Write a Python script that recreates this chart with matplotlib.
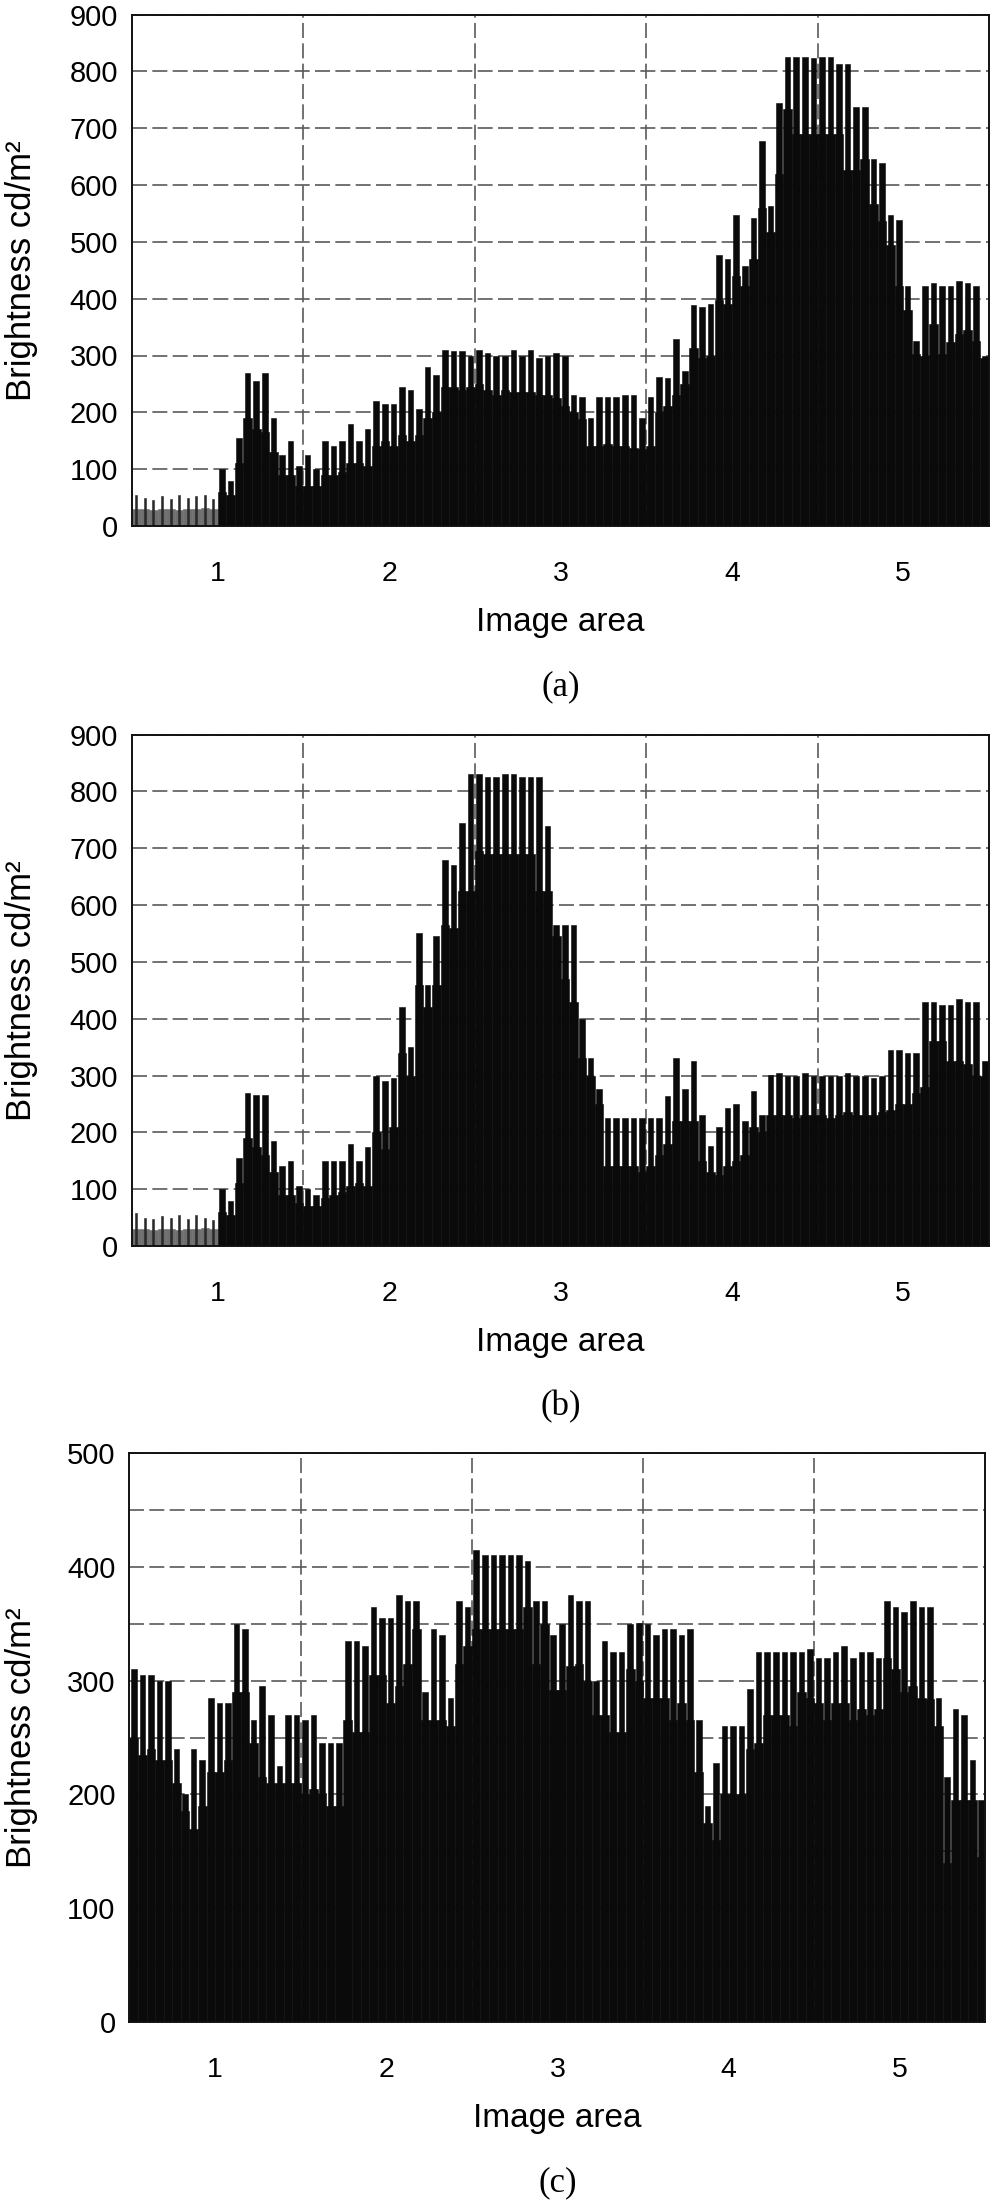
import numpy as np
import matplotlib
matplotlib.use("Agg")
import matplotlib.pyplot as plt
from matplotlib.ticker import FixedLocator, MultipleLocator

plt.rcParams['font.family'] = ['Liberation Sans', 'DejaVu Sans']

# ---------------- data ----------------
# Image area axis: 100 bins of width 0.05 from 0.5 to 5.5
x_start = 0.5
bin_width = 0.05
x_ticks = [1, 2, 3, 4, 5]
x_tick_labels = ['1', '2', '3', '4', '5']
x_bounds = [1.5, 2.5, 3.5, 4.5]

# Panel (a): spike peaks and solid floor of the brightness trace (cd/m^2)
a_peak = [55, 50, 45, 52, 48, 55, 50, 52, 55, 48,
          100, 80, 155, 270, 255, 270, 190, 125, 150, 105,
          125, 100, 150, 140, 150, 180, 150, 170, 220, 215,
          215, 245, 240, 205, 280, 265, 310, 308, 308, 300,
          310, 305, 300, 300, 310, 300, 310, 295, 300, 305,
          300, 230, 227, 190, 227, 227, 227, 230, 230, 190,
          227, 263, 260, 329, 272, 389, 386, 390, 476, 470,
          548, 458, 542, 678, 563, 744, 825, 825, 825, 823,
          825, 826, 813, 813, 738, 738, 645, 639, 548, 539,
          422, 326, 422, 428, 422, 422, 431, 428, 422, 300]
a_floor = [30, 30, 28, 30, 30, 28, 30, 30, 32, 30,
           60, 55, 110, 190, 170, 165, 130, 90, 90, 70,
           70, 70, 90, 90, 95, 110, 110, 105, 140, 150,
           140, 160, 150, 160, 190, 200, 245, 245, 240, 245,
           250, 240, 230, 240, 235, 235, 235, 230, 230, 225,
           212, 200, 188, 140, 140, 145, 140, 140, 137, 135,
           140, 200, 212, 230, 250, 314, 296, 300, 398, 390,
           440, 422, 470, 560, 518, 620, 734, 690, 690, 690,
           690, 690, 690, 627, 627, 645, 566, 536, 494, 422,
           380, 302, 299, 356, 302, 323, 338, 345, 326, 296]

# Panel (b)
b_peak = [58, 50, 48, 52, 50, 55, 48, 55, 50, 45,
          100, 80, 155, 270, 265, 265, 185, 140, 150, 105,
          100, 90, 150, 150, 150, 180, 150, 175, 300, 290,
          295, 420, 350, 550, 460, 545, 680, 670, 745, 830,
          830, 825, 825, 830, 830, 825, 825, 825, 740, 565,
          565, 565, 400, 330, 276, 225, 225, 225, 225, 225,
          225, 225, 264, 330, 276, 325, 230, 176, 210, 242,
          250, 220, 273, 230, 301, 305, 300, 300, 305, 300,
          300, 300, 300, 305, 300, 300, 295, 300, 345, 345,
          340, 340, 430, 430, 425, 425, 435, 430, 430, 325]
b_floor = [30, 30, 28, 30, 30, 28, 30, 30, 32, 30,
           60, 55, 110, 190, 175, 160, 130, 90, 90, 75,
           70, 70, 85, 90, 95, 105, 110, 105, 200, 170,
           210, 340, 300, 460, 420, 460, 565, 560, 625, 625,
           695, 690, 690, 690, 690, 690, 690, 625, 625, 545,
           470, 430, 330, 300, 250, 140, 140, 140, 140, 130,
           140, 160, 180, 220, 220, 220, 150, 130, 125, 140,
           150, 160, 210, 200, 230, 230, 230, 225, 230, 230,
           230, 225, 230, 235, 230, 230, 230, 235, 240, 250,
           250, 270, 280, 360, 360, 325, 325, 320, 300, 300]

# Panel (c)
c_peak = [310, 305, 305, 300, 300, 240, 200, 240, 230, 285,
          280, 280, 350, 345, 265, 295, 270, 225, 270, 270,
          265, 270, 245, 245, 245, 335, 335, 330, 365, 355,
          355, 375, 370, 370, 290, 345, 340, 285, 370, 365,
          415, 410, 410, 410, 410, 410, 405, 370, 370, 340,
          350, 375, 370, 370, 300, 335, 325, 325, 350, 351,
          350, 340, 345, 345, 340, 345, 265, 190, 228, 260,
          260, 260, 293, 325, 325, 325, 325, 325, 325, 328,
          320, 320, 325, 330, 320, 325, 325, 320, 370, 365,
          360, 370, 365, 365, 285, 215, 275, 270, 230, 195]
c_floor = [250, 235, 240, 230, 230, 210, 185, 170, 190, 220,
           220, 230, 290, 290, 245, 215, 210, 210, 210, 210,
           200, 205, 200, 190, 190, 265, 255, 255, 305, 305,
           280, 295, 315, 345, 265, 265, 265, 260, 315, 330,
           345, 345, 345, 345, 345, 345, 365, 315, 350, 292,
           292, 313, 315, 300, 270, 270, 255, 255, 310, 300,
           285, 285, 285, 265, 280, 265, 220, 175, 160, 200,
           200, 200, 240, 245, 270, 270, 270, 260, 290, 285,
           280, 265, 280, 280, 265, 275, 270, 275, 320, 310,
           290, 295, 285, 284, 260, 140, 195, 195, 195, 145]

panels = [
    dict(peak=a_peak, floor=a_floor, ymax=900, ymajor=100, yminor=None,
         grey_until=1.0, label='(a)', box=(132, 14.5, 989, 526)),
    dict(peak=b_peak, floor=b_floor, ymax=900, ymajor=100, yminor=None,
         grey_until=1.0, label='(b)', box=(132, 734.6, 989, 1246)),
    dict(peak=c_peak, floor=c_floor, ymax=500, ymajor=100, yminor=50,
         grey_until=None, label='(c)', box=(129.5, 1453, 985.5, 2022)),
]

# ---------------- drawing ----------------
W, H = 995, 2202
fig = plt.figure(figsize=(W / 100, H / 100), dpi=100)

ink = '#0a0a0a'
grey = '#6f6f6f'
grid_kw = dict(color='#5a5a5a', linewidth=1.2, linestyle=(0, (9, 3.2)))

for p in panels:
    l, t, r, b = p['box']
    ax = fig.add_axes([l / W, 1 - b / H, (r - l) / W, (b - t) / H])
    n = len(p['peak'])
    edges = x_start + bin_width * np.arange(n)
    if p['grey_until'] is not None:
        is_grey = [e < p['grey_until'] - 1e-9 for e in edges]
    else:
        is_grey = [False] * n
    floor_cols = [grey if g else ink for g in is_grey]
    peak_cols = ['#2a2a2a' if g else ink for g in is_grey]
    peak_w = [bin_width * (0.22 if g else 0.65) for g in is_grey]
    peak_x = [e + (bin_width - w) / 2 for e, w in zip(edges, peak_w)]
    ax.bar(edges, p['floor'], width=bin_width, align='edge', color=floor_cols,
           edgecolor=floor_cols, linewidth=0.4, zorder=2)
    ax.bar(peak_x, p['peak'], width=peak_w, align='edge',
           color=peak_cols, edgecolor=peak_cols, linewidth=0.4, zorder=2)

    ax.set_xlim(0.5, 5.5)
    ax.set_ylim(0, p['ymax'])
    ax.xaxis.set_major_locator(FixedLocator(x_ticks))
    ax.set_xticklabels(x_tick_labels)
    ax.xaxis.set_minor_locator(FixedLocator(x_bounds))
    ax.yaxis.set_major_locator(MultipleLocator(p['ymajor']))
    if p['yminor']:
        ax.yaxis.set_minor_locator(MultipleLocator(p['yminor']))
        ax.grid(True, which='minor', axis='y', **grid_kw)
    ax.grid(True, which='minor', axis='x', **grid_kw)
    ax.grid(True, which='major', axis='y', **grid_kw)
    ax.set_axisbelow(True)
    ax.tick_params(which='both', length=0)
    ax.tick_params(axis='x', labelsize=20.5, pad=25)
    ax.tick_params(axis='y', labelsize=21, pad=10)
    for s in ax.spines.values():
        s.set_linewidth(1.4)
        s.set_color('#111111')
        s.set_zorder(5)

    cx = (l + r) / 2
    fig.text(cx / W, 1 - (b + 96) / H, 'Image area', ha='center', va='center',
             fontsize=24)
    fig.text(cx / W, 1 - (b + 161) / H, p['label'], ha='center', va='center',
             fontsize=25, family='Liberation Serif')
    fig.text(22 / W, 1 - ((t + b) / 2) / H, 'Brightness cd/m²', rotation=90,
             ha='center', va='center', fontsize=25)

fig.savefig('out.png', dpi=100)
